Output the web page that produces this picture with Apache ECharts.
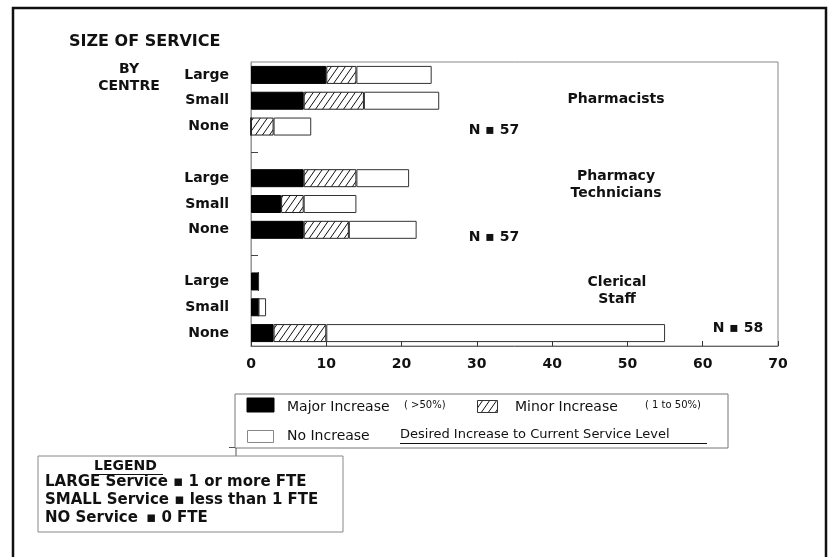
<!DOCTYPE html>
<html>
<head>
<meta charset="utf-8">
<script src="https://cdn.jsdelivr.net/npm/echarts@6/dist/echarts.min.js"></script>
<style>
  html, body { margin: 0; padding: 0; background: #fff; }
  #chart { width: 832px; height: 557px; }
</style>
</head>
<body>
<div id="chart"></div>
<script>
// ---- data ----
var categories = ['Large', 'Small', 'None', '', 'Large', 'Small', 'None', '', 'Large', 'Small', 'None'];
var majorIncrease = [10, 7, 0, null, 7, 4, 7, null, 1, 1, 3];
var minorIncrease = [4, 8, 3, null, 7, 3, 6, null, 0, 0, 7];
var noIncrease = [10, 10, 5, null, 7, 7, 9, null, 0, 1, 45];
var xTicks = [0, 10, 20, 30, 40, 50, 60, 70];
var groupNames = ['Pharmacists', 'Pharmacy\nTechnicians', 'Clerical\nStaff'];
var groupN = ['N ▪ 57', 'N ▪ 57', 'N ▪ 58'];

// ---- hatch pattern ----
function makeHatch() {
  var w = 7, h = 10;
  var c = document.createElement('canvas');
  c.width = w; c.height = h;
  var g = c.getContext('2d');
  g.fillStyle = '#fff';
  g.fillRect(0, 0, w, h);
  g.strokeStyle = '#111';
  g.lineWidth = 1;
  g.beginPath();
  for (var k = -1; k <= 1; k++) {
    g.moveTo(k * w, h);
    g.lineTo(k * w + w, 0);
  }
  g.stroke();
  return c;
}
var hatch = { image: makeHatch(), repeat: 'repeat' };

var FONT = 'DejaVu Sans';
var chart = echarts.init(document.getElementById('chart'), null, { renderer: 'canvas' });

function txt(text, x, y, size, weight, align, extra) {
  var o = {
    type: 'text', x: x, y: y, silent: true,
    style: {
      text: text, fontFamily: FONT, fontSize: size, fontWeight: weight || 'normal',
      fill: '#111', textAlign: align || 'left', textVerticalAlign: 'middle'
    }
  };
  if (extra) for (var k in extra) o.style[k] = extra[k];
  return o;
}

var graphics = [
  // outer frame
  { type: 'rect', silent: true, shape: { x: 13, y: 8, width: 813, height: 600 },
    style: { fill: 'none', stroke: '#111', lineWidth: 2.5 } },
  // titles
  txt('SIZE OF SERVICE', 69, 42, 16, 'bold'),
  txt('BY', 129, 69, 14, 'bold', 'center'),
  txt('CENTRE', 129, 86, 14, 'bold', 'center'),
  // group labels inside plot
  txt(groupNames[0], 616, 99, 14, 'bold', 'center'),
  txt(groupNames[1], 616, 185, 14, 'bold', 'center', { lineHeight: 17 }),
  txt(groupNames[2], 617, 291, 14, 'bold', 'center', { lineHeight: 17 }),
  txt(groupN[0], 494, 130, 14, 'bold', 'center'),
  txt(groupN[1], 494, 237, 14, 'bold', 'center'),
  txt(groupN[2], 738, 328, 14, 'bold', 'center'),
  // series legend box
  { type: 'rect', silent: true, shape: { x: 235, y: 394, width: 493, height: 54 },
    style: { fill: '#fff', stroke: '#777', lineWidth: 1 } },
  { type: 'line', silent: true, shape: { x1: 229, y1: 447.5, x2: 235, y2: 447.5 }, style: { stroke: '#555', lineWidth: 1 } },
  { type: 'line', silent: true, shape: { x1: 236, y1: 448, x2: 236, y2: 456 }, style: { stroke: '#555', lineWidth: 1 } },
  { type: 'rect', silent: true, shape: { x: 247, y: 398, width: 27, height: 14 },
    style: { fill: '#000', stroke: '#000', lineWidth: 1 } },
  txt('Major Increase', 287, 407, 14),
  txt('( >50%)', 404, 405, 10),
  { type: 'rect', silent: true, shape: { x: 477.5, y: 400.5, width: 20, height: 12 },
    style: { fill: hatch, stroke: '#333', lineWidth: 1 } },
  txt('Minor Increase', 515, 407, 14),
  txt('( 1 to 50%)', 645, 405, 10),
  { type: 'rect', silent: true, shape: { x: 247.5, y: 430.5, width: 26, height: 12 },
    style: { fill: '#fff', stroke: '#888', lineWidth: 1 } },
  txt('No Increase', 287, 436, 14),
  txt('Desired Increase to Current Service Level', 400, 435, 13),
  { type: 'line', silent: true, shape: { x1: 400, y1: 443.5, x2: 707, y2: 443.5 }, style: { stroke: '#111', lineWidth: 1 } },
  // size legend box
  { type: 'rect', silent: true, shape: { x: 38, y: 456, width: 305, height: 76 },
    style: { fill: '#fff', stroke: '#888', lineWidth: 1 } },
  txt('LEGEND', 94, 466, 14, 'bold'),
  { type: 'line', silent: true, shape: { x1: 94, y1: 474.5, x2: 163, y2: 474.5 }, style: { stroke: '#111', lineWidth: 1 } },
  txt('LARGE Service ▪ 1 or more FTE', 45, 482, 15, 'bold'),
  txt('SMALL Service ▪ less than 1 FTE', 45, 500, 15, 'bold'),
  txt('NO Service', 45, 518, 15, 'bold'),
  txt('▪ 0 FTE', 146, 518, 15, 'bold')
];

var option = {
  animation: false,
  backgroundColor: '#fff',
  grid: { left: 251, right: 54, top: 62, bottom: 211, show: true, borderColor: '#888', borderWidth: 1 },
  xAxis: {
    type: 'value', min: xTicks[0], max: xTicks[xTicks.length - 1], interval: 10,
    axisLine: { show: true, lineStyle: { color: '#666', width: 1 } },
    axisTick: { show: true, inside: true, length: 5, lineStyle: { color: '#333' } },
    splitLine: { show: false },
    axisLabel: { margin: 11, fontFamily: FONT, fontSize: 14, fontWeight: 'bold', color: '#111' }
  },
  yAxis: {
    type: 'category', inverse: true, data: categories,
    axisLine: { show: true, lineStyle: { color: '#999', width: 1 } },
    axisTick: {
      show: true, inside: true, length: 7, alignWithLabel: true,
      interval: function (i) { return categories[i] === ''; },
      lineStyle: { color: '#444' }
    },
    axisLabel: { margin: 22, fontFamily: FONT, fontSize: 14, fontWeight: 'bold', color: '#111' }
  },
  series: [
    { name: 'Major Increase', type: 'bar', stack: 'total', barWidth: 18, silent: true, data: majorIncrease,
      itemStyle: { color: '#000', borderColor: '#000', borderWidth: 1 } },
    { name: 'Minor Increase', type: 'bar', stack: 'total', barWidth: 18, silent: true, data: minorIncrease,
      itemStyle: { color: hatch, borderColor: '#222', borderWidth: 1 } },
    { name: 'No Increase', type: 'bar', stack: 'total', barWidth: 18, silent: true, data: noIncrease,
      itemStyle: { color: '#fff', borderColor: '#333', borderWidth: 1 } }
  ],
  graphic: graphics
};
chart.setOption(option);
</script>
</body>
</html>
